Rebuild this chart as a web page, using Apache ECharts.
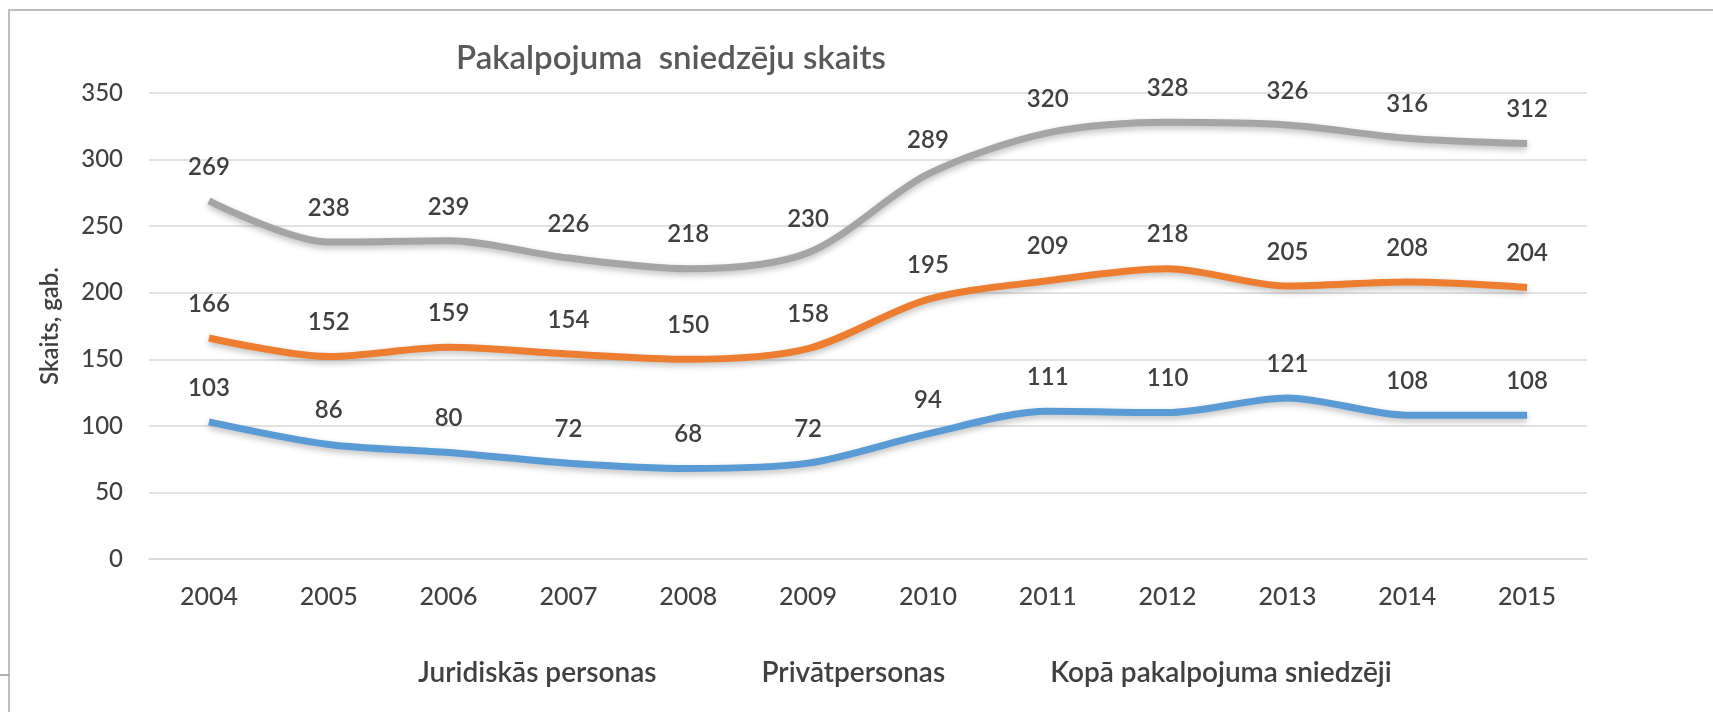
<!DOCTYPE html>
<html>
<head>
<meta charset="utf-8">
<script src="https://cdn.jsdelivr.net/npm/echarts@6/dist/echarts.min.js"></script>
<style>
	html, body { margin: 0; padding: 0; background: #fff; }
	#chart { width: 1713px; height: 712px; }
</style>
</head>
<body>
<div id="chart"></div>
<script>
var years = ['2004', '2005', '2006', '2007', '2008', '2009', '2010', '2011', '2012', '2013', '2014', '2015'];
var juridiskas = [103, 86, 80, 72, 68, 72, 94, 111, 110, 121, 108, 108];
var privatpersonas = [166, 152, 159, 154, 150, 158, 195, 209, 218, 205, 208, 204];
var kopa = [269, 238, 239, 226, 218, 230, 289, 320, 328, 326, 316, 312];

var textColor = '#404040';
var fontName = 'Lato';

function makeSeries(name, values, color) {
	return {
		name: name,
		type: 'line',
		data: values,
		smooth: 0.3,
		symbol: 'circle',
		symbolSize: 0,
		lineStyle: {
			width: 7,
			color: color,
			shadowColor: 'rgba(0,0,0,0.25)',
			shadowBlur: 6,
			shadowOffsetY: 3
		},
		itemStyle: { color: color },
		label: {
			show: true,
			position: 'top',
			distance: 22,
			color: textColor,
			fontFamily: fontName,
			fontWeight: 600,
			fontSize: 24
		}
	};
}

var chart = echarts.init(document.getElementById('chart'));
chart.setOption({
	backgroundColor: '#fff',
	animation: false,
	title: {
		text: 'Pakalpojuma  sniedzēju skaits',
		left: 666,
		top: 37,
		textAlign: 'center',
		textStyle: { color: '#595959', fontFamily: fontName, fontSize: 33, fontWeight: 600 }
	},
	legend: {
		bottom: 20,
		left: 408,
		icon: 'none',
		itemWidth: 0,
		itemGap: 100,
		textStyle: { color: textColor, fontFamily: fontName, fontSize: 28, fontWeight: 600 },
		data: ['Juridiskās personas', 'Privātpersonas', 'Kopā pakalpojuma sniedzēji']
	},
	grid: { left: 149, right: 126, top: 93, bottom: 153 },
	xAxis: {
		type: 'category',
		data: years,
		axisLine: { lineStyle: { color: '#d9d9d9', width: 1.5 } },
		axisTick: { show: false },
		axisLabel: { color: textColor, fontFamily: fontName, fontSize: 25, fontWeight: 500, margin: 25 }
	},
	yAxis: {
		type: 'value',
		min: 0,
		max: 350,
		interval: 50,
		name: 'Skaits, gab.',
		nameLocation: 'middle',
		nameGap: 87,
		nameTextStyle: { color: textColor, fontFamily: fontName, fontSize: 24, fontWeight: 600 },
		axisLabel: { color: textColor, fontFamily: fontName, fontSize: 24, fontWeight: 500, margin: 26 },
		splitLine: { lineStyle: { color: '#d9d9d9', width: 1.5 } }
	},
	graphic: [
		{ type: 'line', shape: { x1: 8, y1: 10, x2: 1713, y2: 10 }, style: { stroke: '#bfbfbf', lineWidth: 2 } },
		{ type: 'line', shape: { x1: 9, y1: 10, x2: 9, y2: 712 }, style: { stroke: '#bfbfbf', lineWidth: 2 } },
		{ type: 'line', shape: { x1: 0, y1: 675, x2: 9, y2: 675 }, style: { stroke: '#999', lineWidth: 1.5 } }
	],
	series: [
		makeSeries('Juridiskās personas', juridiskas, '#5B9BD5'),
		makeSeries('Privātpersonas', privatpersonas, '#ED7D31'),
		makeSeries('Kopā pakalpojuma sniedzēji', kopa, '#A5A5A5')
	]
});
</script>
</body>
</html>
